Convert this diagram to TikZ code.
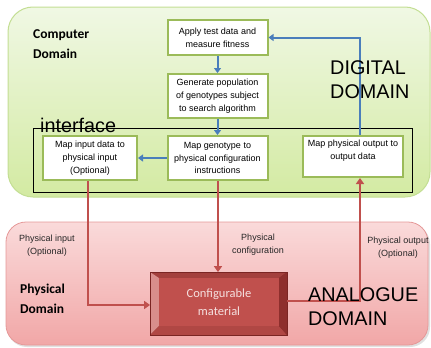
\documentclass[tikz,border=0pt]{standalone}
\usepackage{fontspec}
\setmainfont{Liberation Sans}
\newfontfamily\calfont{Carlito}
\usetikzlibrary{arrows.meta,calc}
\definecolor{boxgreen}{HTML}{9BBB59}
\definecolor{arrblue}{HTML}{4A7EBB}
\definecolor{arrred}{HTML}{C0504D}
\definecolor{gtop}{HTML}{F0F8E4}
\definecolor{gbot}{HTML}{D3EAA2}
\definecolor{gedge}{HTML}{C3DE93}
\definecolor{ptop}{HTML}{FADADA}
\definecolor{pbot}{HTML}{F1A7A7}
\definecolor{pedge}{HTML}{E59898}
\definecolor{matface}{HTML}{C0504D}
\definecolor{matedge}{HTML}{7A2523}
\definecolor{mattext}{HTML}{F5E0DF}
\definecolor{bevtop}{HTML}{A3403D}
\definecolor{bevleft}{HTML}{D88E8C}
\definecolor{bevbot}{HTML}{B04744}
\definecolor{bevright}{HTML}{8E2F2D}
\tikzset{
  box/.style={draw=boxgreen, line width=2pt, fill=white, align=center, inner sep=1pt,
    font=\fontsize{9}{12.8}\selectfont},
  bluearr/.style={draw=arrblue, line width=2pt, -{Triangle[width=7pt,length=5pt]}},
  redarr/.style={draw=arrred, line width=1.8pt, -{Triangle[width=8pt,length=6pt]}},
  smalllbl/.style={align=center, inner sep=0pt, font=\fontsize{9}{13}\selectfont, text=black!85},
  biglbl/.style={align=left, inner sep=0pt, anchor=base west, font=\fontsize{19.8}{23.8}\selectfont},
  domlbl/.style={align=left, inner sep=0pt, anchor=base west, font=\calfont\bfseries\fontsize{13.5}{19.5}\selectfont},
}
\begin{document}
\begin{tikzpicture}[x=1pt,y=-1pt]
\useasboundingbox (0,0) rectangle (431,348);
% domains
\path[draw=gedge, line width=1pt, top color=gtop, bottom color=gbot, rounded corners=25pt] (8,7) rectangle (430,197);
\path[fill=black!12, rounded corners=20pt] (7,224) rectangle (430,347);
\path[draw=pedge, line width=0.8pt, top color=ptop, bottom color=pbot, rounded corners=20pt] (6,222) rectangle (428,345);
% interface frame
\draw[line width=0.7pt] (33,128) rectangle (412,192);
% boxes
\node[box, minimum width=100, minimum height=35] (apply) at (217.5,37.5) {Apply test data and\\measure fitness};
\node[box, minimum width=100, minimum height=44] (gen) at (217.5,96) {Generate population\\of genotypes subject\\to search algorithm};
\node[box, minimum width=100, minimum height=44] (geno) at (217.5,158) {Map genotype to\\physical configuration\\instructions};
\node[box, minimum width=94, minimum height=44] (mapin) at (90,158) {Map input data to\\physical input\\(Optional)};
\node[box, minimum width=100, minimum height=41] (mapout) at (353,156.5) {Map physical output to\\output data\\~};
% material
\node[draw=matedge, line width=0.8pt, fill=matedge!85!matface, minimum width=136, minimum height=62, inner sep=0pt] (mat) at (218.5,303.5) {};
\coordinate (inw) at ($(mat.north west)+(9,6)$);
\coordinate (ine) at ($(mat.north east)+(-8,6)$);
\coordinate (isw) at ($(mat.south west)+(9,-9)$);
\coordinate (ise) at ($(mat.south east)+(-8,-9)$);
\fill[bevtop] (mat.north west) -- (mat.north east) -- (ine) -- (inw) -- cycle;
\fill[bevleft] (mat.north west) -- (inw) -- (isw) -- (mat.south west) -- cycle;
\fill[bevbot] (mat.south west) -- (isw) -- (ise) -- (mat.south east) -- cycle;
\fill[bevright] (mat.north east) -- (ine) -- (ise) -- (mat.south east) -- cycle;
\draw[matedge, line width=0.8pt] (mat.north west) rectangle (mat.south east);
\fill[matface] (inw) rectangle (ise);
\node[align=center, text=mattext, inner sep=0pt, font=\calfont\fontsize{12.5}{17.5}\selectfont] (mattxt) at ($(inw)!0.5!(ise)$) {Configurable\\material};
% blue connectors
\draw[bluearr] (apply) -- (gen);
\draw[bluearr] (gen) -- (geno);
\draw[bluearr] (geno) -- (mapin);
\draw[bluearr] ([xshift=7]mapout.north) |- (apply.east);
% red connectors
\draw[redarr] ([xshift=-2]mapin.south) |- ([yshift=-1.5]mat.west);
\draw[redarr] ([xshift=0.5]geno.south) -- ([xshift=0.5]geno.south |- mat.north);
\draw[redarr] ([yshift=2.5]mat.east) -| ([xshift=7]mapout.south);
% labels
\node[smalllbl] (lin) at (47,245.5) {Physical input\\(Optional)};
\node[smalllbl] (lcfg) at (258,244.5) {Physical\\configuration};
\node[smalllbl] (lout) at (398,247.5) {Physical output\\(Optional)};
\node[domlbl] (cdom) at (33,58) {Computer\\Domain};
\node[domlbl] (pdom) at (20,313) {Physical\\Domain};
\node[biglbl] (iface) at (40,132) {interface};
\node[biglbl] (dig) at (330,98) {DIGITAL\\DOMAIN};
\node[biglbl] (ana) at (308,325) {ANALOGUE\\DOMAIN};
\end{tikzpicture}
\end{document}
